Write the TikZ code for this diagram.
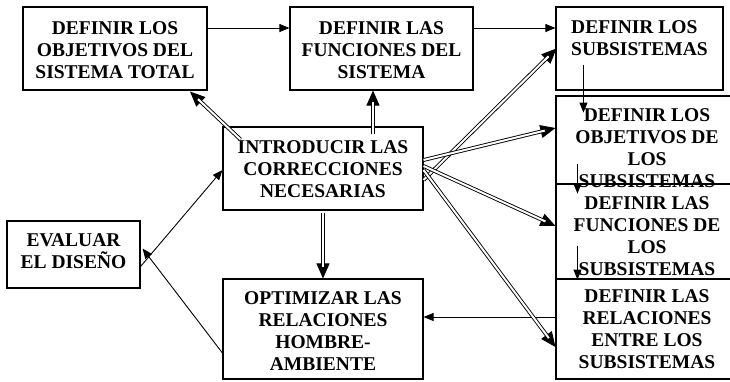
\documentclass[tikz,border=0pt]{standalone}
\usepackage{fontspec}
\setmainfont{Liberation Serif}
\usetikzlibrary{arrows.meta}
\newcommand\dblarr[2]{%
  \draw[line width=0.9pt,-{Triangle[length=15pt,width=13pt]}] #1 -- #2;
  \draw[double=white,double distance=2pt,line width=0.9pt,shorten >=11pt] #1 -- #2;}
\begin{document}
\begin{tikzpicture}[x=1pt,y=-1pt,
  box/.style={draw=black,line width=1.1pt,inner sep=0pt,minimum width=#1},
  txt/.style={font=\fontsize{19.5}{22}\selectfont\bfseries,align=center,inner sep=0pt},
  thinarrow/.style={line width=0.9pt,-{Triangle[length=10pt,width=8pt]}}]
\useasboundingbox (0,0) rectangle (730,381);
\clip (0,0) rectangle (730,381);
% boxes
\node[box=184pt,minimum height=83pt] (A) at (115,48.5) {};
\node[box=183pt,minimum height=83pt] (B) at (381.5,48.5) {};
\node[box=167pt,minimum height=83pt] (C) at (639.5,48.5) {};
\node[box=184pt,minimum height=88pt] (D) at (648,140) {};
\node[box=184pt,minimum height=95pt] (E) at (648,231.5) {};
\node[box=184pt,minimum height=100pt] (F) at (648,329) {};
\node[box=200pt,minimum height=83pt] (G) at (323,168.5) {};
\node[box=133pt,minimum height=67pt] (H) at (73.5,254.5) {};
\node[box=200pt,minimum height=100pt] (I) at (323,329) {};
% texts
\node[txt] (tA) at (115,50) {DEFINIR LOS\\OBJETIVOS DEL\\SISTEMA TOTAL};
\node[txt] (tB) at (381.5,50) {DEFINIR LAS\\FUNCIONES DEL\\SISTEMA};
\node[txt,align=left,anchor=north west] (tC) at (571,20) {DEFINIR LOS\\SUBSISTEMAS};
\node[txt] (tD) at (647,148.5) {DEFINIR LOS\\OBJETIVOS DE\\LOS\\SUBSISTEMAS};
\node[txt] (tE) at (647,236) {DEFINIR LAS\\FUNCIONES DE\\LOS\\SUBSISTEMAS};
\node[txt] (tF) at (647,329.5) {DEFINIR LAS\\RELACIONES\\ENTRE LOS\\SUBSISTEMAS};
\node[txt] (tG) at (323,169.5) {INTRODUCIR LAS\\CORRECCIONES\\NECESARIAS};
\node[txt] (tH) at (73.5,251) {EVALUAR\\EL DISEÑO};
\node[txt] (tI) at (323,331) {OPTIMIZAR LAS\\RELACIONES\\HOMBRE-\\AMBIENTE};
% thin arrows
\draw[thinarrow] ([yshift=20.5pt]A.east) -- ([yshift=20.5pt]B.west);
\draw[thinarrow] ([yshift=20.5pt]B.east) -- ([yshift=20.5pt]C.west);
\draw[thinarrow] ([xshift=28pt,yshift=26pt]C.south west) -- ([xshift=28pt,yshift=-22pt]C.south west);
\draw[thinarrow] ([xshift=22pt,yshift=21pt]D.south west) -- ([xshift=22pt,yshift=-9pt]D.south west);
\draw[thinarrow] ([xshift=22pt,yshift=34pt]E.south west) -- ([xshift=22pt,yshift=0pt]E.south west);
\draw[thinarrow] ([yshift=12pt]F.west) -- ([yshift=12pt]I.east);
\draw[thinarrow] ([yshift=-24pt]I.west) -- ([xshift=2pt,yshift=6pt]H.east);
\draw[thinarrow] ([yshift=-12pt]H.east) -- ([yshift=-1.5pt]G.west);
% double arrows
\dblarr{([xshift=18pt,yshift=-13pt]G.north west)}{([xshift=75pt,yshift=-1pt]A.south)}
\dblarr{([xshift=50pt,yshift=-8pt]G.north)}{([xshift=-8.5pt]B.south)}
\dblarr{([yshift=-11.5pt]G.east)}{([xshift=1pt]C.west)}
\dblarr{([yshift=8.5pt]G.east)}{([yshift=12pt]D.west)}
\dblarr{([yshift=2.5pt]G.east)}{([yshift=5.5pt]E.west)}
\dblarr{([yshift=-1.5pt]G.east)}{([yshift=-18pt]F.west)}
\dblarr{([yshift=-2pt]G.south)}{(I.north)}
\end{tikzpicture}
\end{document}
